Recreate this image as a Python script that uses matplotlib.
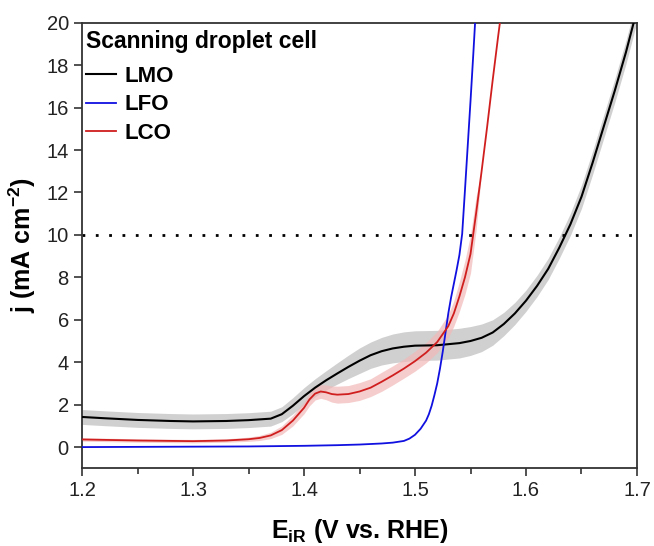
import numpy as np
import matplotlib.pyplot as plt
from matplotlib.ticker import MultipleLocator

plt.rcParams['font.family'] = ['Liberation Sans', 'DejaVu Sans']
plt.rcParams['mathtext.fontset'] = 'custom'
plt.rcParams['mathtext.rm'] = 'Liberation Sans:bold'
plt.rcParams['mathtext.bf'] = 'Liberation Sans:bold'

# LMO: potential (V vs RHE), current density (mA cm-2), spread between cells
lmo_E = [1.20, 1.22, 1.25, 1.28, 1.30, 1.33, 1.35, 1.37, 1.38, 1.39, 1.40, 1.41,
         1.42, 1.43, 1.44, 1.45, 1.46, 1.47, 1.48, 1.49, 1.50, 1.52, 1.54, 1.55,
         1.56, 1.57, 1.58, 1.59, 1.60, 1.61, 1.62, 1.63, 1.64, 1.65, 1.66, 1.67,
         1.68, 1.69, 1.70]
lmo_j = [1.42, 1.36, 1.28, 1.23, 1.21, 1.23, 1.27, 1.34, 1.55, 1.95, 2.40, 2.80,
         3.15, 3.47, 3.78, 4.07, 4.33, 4.52, 4.65, 4.73, 4.78, 4.80, 4.90, 5.00,
         5.15, 5.40, 5.80, 6.30, 6.90, 7.60, 8.40, 9.40, 10.50, 11.80, 13.40, 15.10,
         16.80, 18.60, 20.60]
lmo_err = [0.35, 0.35, 0.35, 0.35, 0.35, 0.35, 0.35, 0.35, 0.35, 0.38, 0.40, 0.42,
           0.45, 0.50, 0.55, 0.60, 0.62, 0.65, 0.68, 0.70, 0.70, 0.70, 0.70, 0.68,
           0.65, 0.60, 0.55, 0.52, 0.50, 0.50, 0.50, 0.50, 0.52, 0.55, 0.55, 0.55,
           0.55, 0.55, 0.55]

# LFO
lfo_E = [1.20, 1.25, 1.30, 1.35, 1.40, 1.43, 1.45, 1.47, 1.48, 1.49, 1.495,
         1.50, 1.505, 1.51, 1.5125, 1.515, 1.5175, 1.52, 1.5225, 1.525, 1.5275,
         1.53, 1.5325, 1.535, 1.5375, 1.54, 1.5425, 1.545, 1.5475, 1.55, 1.5525,
         1.555]
lfo_j = [0.00, 0.01, 0.02, 0.03, 0.06, 0.09, 0.12, 0.17, 0.21, 0.29, 0.40,
         0.58, 0.86, 1.25, 1.55, 1.95, 2.45, 3.00, 3.70, 4.50, 5.40,
         6.30, 7.05, 7.70, 8.35, 9.05, 10.05, 12.10, 14.20, 16.30, 18.50,
         20.80]

# LCO
lco_E = [1.20, 1.25, 1.30, 1.33, 1.35, 1.36, 1.37, 1.38, 1.39, 1.40, 1.405,
         1.41, 1.415, 1.42, 1.425, 1.43, 1.44, 1.45, 1.46, 1.47, 1.48, 1.49,
         1.50, 1.51, 1.52, 1.53, 1.535, 1.54, 1.545, 1.55, 1.555, 1.56, 1.565,
         1.57, 1.575, 1.58]
lco_j = [0.36, 0.31, 0.28, 0.31, 0.37, 0.43, 0.55, 0.80, 1.25, 1.85, 2.25,
         2.52, 2.62, 2.58, 2.50, 2.47, 2.50, 2.62, 2.80, 3.08, 3.38, 3.70,
         4.05, 4.45, 4.95, 5.70, 6.30, 7.10, 8.00, 9.10, 11.00, 13.00, 15.10,
         17.30, 19.40, 21.40]
lco_err = [0.08, 0.08, 0.08, 0.08, 0.10, 0.12, 0.15, 0.20, 0.25, 0.28, 0.30,
           0.30, 0.32, 0.35, 0.38, 0.40, 0.40, 0.42, 0.42, 0.45, 0.45, 0.45,
           0.47, 0.48, 0.50, 0.55, 0.60, 0.70, 0.80, 0.90, 0.80, 0.0, 0.0,
           0.0, 0.0, 0.0]

fig = plt.figure(figsize=(6.54, 5.46), dpi=100)
ax = fig.add_axes([0.1254, 0.1423, 0.8486, 0.8161])

lmo_j, lmo_err = np.array(lmo_j), np.array(lmo_err)
lco_j, lco_err = np.array(lco_j), np.array(lco_err)

# shaded bands = spread over several droplet spots
ax.fill_between(lmo_E, lmo_j - lmo_err, lmo_j + lmo_err, color='#d0d0d0', lw=0, zorder=1)
ax.fill_between(lco_E, lco_j - lco_err, lco_j + lco_err, color='#f2b8b8', alpha=0.7, lw=0, zorder=1)

ax.axhline(10, color='black', lw=2, linestyle=(0, (1, 3.8)), zorder=2)

ax.plot(lmo_E, lmo_j, color='black', lw=1.5, label='LMO', zorder=3)
ax.plot(lfo_E, lfo_j, color='#1010e0', lw=1.3, label='LFO', zorder=3)
ax.plot(lco_E, lco_j, color='#d01e1e', lw=1.3, label='LCO', zorder=3)

ax.set_xlim(1.2, 1.7)
ax.set_ylim(-1, 20)
ax.xaxis.set_major_locator(MultipleLocator(0.1))
ax.xaxis.set_minor_locator(MultipleLocator(0.05))
ax.yaxis.set_major_locator(MultipleLocator(2))
ax.tick_params(axis='both', which='major', direction='out', length=6, width=1.2,
               labelsize=14.5, colors='#333333', labelcolor='#222222')
ax.tick_params(axis='x', which='minor', direction='out', length=4, width=1.2, colors='#333333')
for sp in ax.spines.values():
    sp.set_linewidth(1.3)
    sp.set_color('#333333')

ax.set_xlabel(r'$\mathbf{E_{iR}}$ (V vs. RHE)', fontsize=18, fontweight='bold', labelpad=12)
ax.set_ylabel(r'j (mA cm$^{-2}$)', fontsize=18, fontweight='bold', labelpad=6)

leg = ax.legend(loc='upper left', bbox_to_anchor=(-0.012, 1.009),
                title='Scanning droplet cell', frameon=False,
                handlelength=1.35, handletextpad=0.35, labelspacing=0.33,
                borderaxespad=0.2, borderpad=0.3,
                prop={'weight': 'bold', 'size': 16},
                title_fontproperties={'weight': 'bold', 'size': 16.5})
leg._legend_box.align = 'left'
leg._legend_box.sep = 9.5

fig.savefig('out.png', dpi=100)
